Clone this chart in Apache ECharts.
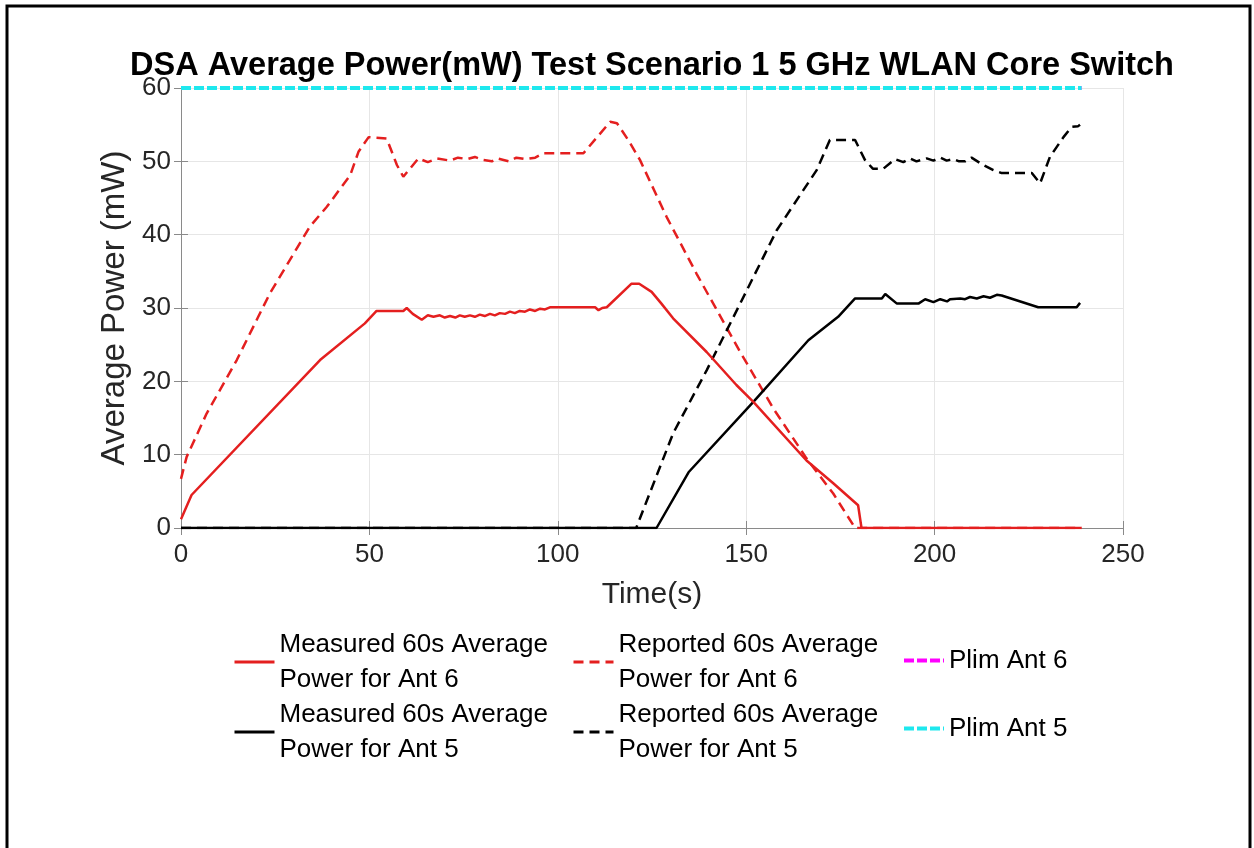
<!DOCTYPE html>
<html>
<head>
<meta charset="utf-8">
<script src="https://cdn.jsdelivr.net/npm/echarts@6/dist/echarts.min.js"></script>
<style>
  html, body { margin: 0; padding: 0; background: #fff; }
  #chart { width: 1254px; height: 848px; }
</style>
</head>
<body>
<div id="chart"></div>
<script>
const FONT = '"Liberation Sans", Arial, Helvetica, sans-serif';

const xTicks = [0, 50, 100, 150, 200, 250];
const yTicks = [0, 10, 20, 30, 40, 50, 60];

// Measured 60s average power, Ant 6 (red solid)
const tMeas6 = [0, 2.8, 36.9, 48.8, 51.9, 59.0, 59.9, 61.5, 63.9, 65.5, 67.0, 68.7, 70.0, 71.4, 72.8, 74.0, 75.3, 76.7, 78.0, 79.3, 80.6, 82.0, 83.3, 84.6, 86.0, 87.3, 88.6, 89.9, 91.3, 92.6, 94.0, 95.3, 96.6, 97.9, 109.9, 110.8, 111.8, 113.0, 119.5, 121.6, 124.9, 127.5, 130.6, 139.5, 147.4, 151.9, 166.0, 173.1, 179.7, 180.6, 239];
const pMeas6 = [1.2, 4.5, 22.9, 27.9, 29.6, 29.6, 30.0, 29.2, 28.4, 29.0, 28.8, 29.0, 28.7, 28.9, 28.7, 29.0, 28.8, 29.0, 28.8, 29.1, 28.9, 29.2, 29.0, 29.3, 29.2, 29.5, 29.3, 29.6, 29.5, 29.8, 29.6, 29.9, 29.8, 30.1, 30.1, 29.7, 30.0, 30.1, 33.3, 33.3, 32.2, 30.6, 28.6, 24.0, 19.5, 17.2, 9.2, 6.1, 3.1, 0, 0];

// Reported 60s average power, Ant 6 (red dashed)
const tRep6 = [0, 1.5, 6.8, 14.8, 20.5, 23.6, 34.2, 38.7, 44.9, 47.1, 49.8, 54.6, 57.3, 59.0, 63.0, 65.5, 68.0, 71.4, 73.5, 76.0, 78.0, 80.0, 82.5, 84.0, 87.0, 89.0, 91.5, 94.0, 96.2, 106.8, 113.9, 115.7, 118.7, 121.8, 128.9, 136.8, 148.4, 157.2, 166.0, 173.1, 178.9, 239];
const pRep6 = [6.7, 9.7, 15.6, 22.9, 28.8, 32.0, 41.1, 43.8, 48.1, 51.3, 53.3, 53.1, 49.5, 47.9, 50.4, 49.9, 50.4, 50.1, 50.5, 50.3, 50.6, 50.2, 50.0, 50.4, 50.0, 50.5, 50.3, 50.5, 51.1, 51.1, 55.4, 55.2, 52.9, 50.2, 42.4, 34.7, 24.0, 16.3, 9.5, 4.7, 0, 0];

// Measured 60s average power, Ant 5 (black solid)
const tMeas5 = [0, 126.2, 134.7, 151.9, 166.5, 174.4, 178.9, 186.0, 186.9, 190.0, 195.7, 197.5, 199.7, 201.5, 203.3, 204.1, 206.8, 208.1, 209.4, 211.2, 213.0, 214.7, 216.5, 217.8, 227.5, 237.7, 238.6];
const pMeas5 = [0, 0, 7.6, 17.2, 25.6, 28.8, 31.3, 31.3, 31.9, 30.6, 30.6, 31.2, 30.8, 31.2, 30.9, 31.2, 31.3, 31.2, 31.5, 31.3, 31.6, 31.4, 31.8, 31.7, 30.1, 30.1, 30.7];

// Reported 60s average power, Ant 5 (black dashed)
const tRep5 = [0, 120.8, 130.6, 139.5, 148.4, 158.1, 168.7, 172.2, 178.9, 181.5, 183.6, 186.4, 189.5, 191.7, 193.5, 195.2, 197.9, 199.7, 201.5, 203.2, 205.0, 206.5, 208.1, 209.8, 212.9, 215.6, 217.8, 225.8, 228.0, 230.6, 234.2, 236.4, 238.1, 238.6];
const pRep5 = [0, 0, 12.9, 21.5, 30.6, 40.6, 48.8, 52.9, 52.9, 50.2, 49.0, 49.0, 50.3, 49.9, 50.4, 50.0, 50.4, 50.1, 50.5, 50.1, 50.3, 50.0, 50.0, 50.5, 49.5, 48.8, 48.4, 48.4, 47.0, 50.6, 53.3, 54.7, 54.8, 55.0];

// Power limits
const tPlim = [0, 239];
const pPlim6 = [60, 60];
const pPlim5 = [60, 60];

const names = {
  meas6: 'Measured 60s Average Power for Ant 6',
  rep6: 'Reported 60s Average Power for Ant 6',
  plim6: 'Plim Ant 6',
  meas5: 'Measured 60s Average Power for Ant 5',
  rep5: 'Reported 60s Average Power for Ant 5',
  plim5: 'Plim Ant 5'
};
const legendText = {
  [names.meas6]: 'Measured 60s Average\nPower for Ant 6',
  [names.rep6]: 'Reported 60s Average\nPower for Ant 6',
  [names.meas5]: 'Measured 60s Average\nPower for Ant 5',
  [names.rep5]: 'Reported 60s Average\nPower for Ant 5',
  [names.plim6]: 'Plim Ant 6',
  [names.plim5]: 'Plim Ant 5'
};

const zip = (xs, ys) => xs.map((x, i) => [x, ys[i]]);

const RED = '#e41f1f';
const BLACK = '#000000';
const MAGENTA = '#ff00ff';
const CYAN = '#1ee8ee';

function lineSeries(name, xs, ys, color, type, width, z) {
  return {
    name,
    type: 'line',
    symbol: 'none',
    z,
    lineStyle: { color, width, type },
    itemStyle: { color },
    data: zip(xs, ys)
  };
}

// legend shows only the line sample, no marker
const legendBase = {
  orient: 'vertical',
  padding: 0,
  itemWidth: 40,
  itemHeight: 14,
  selectedMode: false,
  itemStyle: { opacity: 0 },
  lineStyle: { width: 3 },
  formatter: name => legendText[name],
  textStyle: { fontFamily: FONT, fontSize: 26, lineHeight: 35, color: '#000' }
};

const chart = echarts.init(document.getElementById('chart'));

chart.setOption({
  animation: false,
  backgroundColor: '#fff',
  textStyle: { fontFamily: FONT },
  title: {
    text: 'DSA Average Power(mW) Test Scenario 1 5 GHz WLAN Core Switch',
    left: 652,
    top: 50,
    padding: 0,
    textAlign: 'center',
    textStyle: { fontFamily: FONT, fontSize: 32.5, fontWeight: 'bold', color: '#000' }
  },
  grid: { left: 181, right: 131, top: 88, bottom: 320 },
  legend: [
    Object.assign({}, legendBase, { left: 233, top: 627, itemGap: 0, data: [names.meas6, names.meas5] }),
    Object.assign({}, legendBase, { left: 572, top: 627, itemGap: 0, data: [names.rep6, names.rep5] }),
    Object.assign({}, legendBase, { left: 902, top: 643, itemGap: 33, data: [names.plim6, names.plim5], lineStyle: { width: 4 } })
  ],
  xAxis: [
    {
      type: 'value',
      min: xTicks[0],
      max: xTicks[xTicks.length - 1],
      interval: 50,
      name: 'Time(s)',
      nameLocation: 'middle',
      nameGap: 52,
      nameTextStyle: { fontFamily: FONT, fontSize: 30, color: '#262626' },
      axisLine: { show: true, lineStyle: { color: '#8a8a8a', width: 1 } },
      axisTick: { show: true, inside: true, length: 7, lineStyle: { color: '#8a8a8a' } },
      axisLabel: { fontSize: 26, color: '#262626', margin: 14 },
      splitLine: { show: true, lineStyle: { color: '#e6e6e6', width: 1 } }
    },
    {
      type: 'value',
      position: 'top',
      min: xTicks[0],
      max: xTicks[xTicks.length - 1],
      interval: 50,
      axisLine: { show: true, lineStyle: { color: '#8a8a8a', width: 1 } },
      axisTick: { show: true, inside: true, length: 7, lineStyle: { color: '#8a8a8a' } },
      axisLabel: { show: false },
      splitLine: { show: false }
    }
  ],
  yAxis: [
    {
      type: 'value',
      min: yTicks[0],
      max: yTicks[yTicks.length - 1],
      interval: 10,
      name: 'Average Power (mW)',
      nameLocation: 'middle',
      nameGap: 42,
      nameTextStyle: { fontFamily: FONT, fontSize: 33, color: '#262626' },
      axisLine: { show: true, lineStyle: { color: '#8a8a8a', width: 1 } },
      axisTick: { show: true, inside: true, length: 7, lineStyle: { color: '#8a8a8a' } },
      axisLabel: { fontSize: 26, color: '#262626', margin: 10 },
      splitLine: { show: true, lineStyle: { color: '#e6e6e6', width: 1 } }
    },
    {
      type: 'value',
      position: 'right',
      min: yTicks[0],
      max: yTicks[yTicks.length - 1],
      interval: 10,
      axisLine: { show: true, lineStyle: { color: '#8a8a8a', width: 1 } },
      axisTick: { show: true, inside: true, length: 7, lineStyle: { color: '#8a8a8a' } },
      axisLabel: { show: false },
      splitLine: { show: false }
    }
  ],
  graphic: [
    {
      type: 'rect',
      shape: { x: 7, y: 6, width: 1243, height: 900 },
      style: { fill: 'none', stroke: '#000', lineWidth: 3 },
      silent: true
    }
  ],
  series: [
    lineSeries(names.meas6, tMeas6, pMeas6, RED, 'solid', 2.5, 3),
    lineSeries(names.rep6, tRep6, pRep6, RED, [10, 6], 2.5, 2),
    lineSeries(names.plim6, tPlim, pPlim6, MAGENTA, [10, 3], 4, 4),
    lineSeries(names.meas5, tMeas5, pMeas5, BLACK, 'solid', 2.5, 2),
    lineSeries(names.rep5, tRep5, pRep5, BLACK, [10, 6], 2.5, 2),
    lineSeries(names.plim5, tPlim, pPlim5, CYAN, [10, 3], 4, 5)
  ]
});
</script>
</body>
</html>
